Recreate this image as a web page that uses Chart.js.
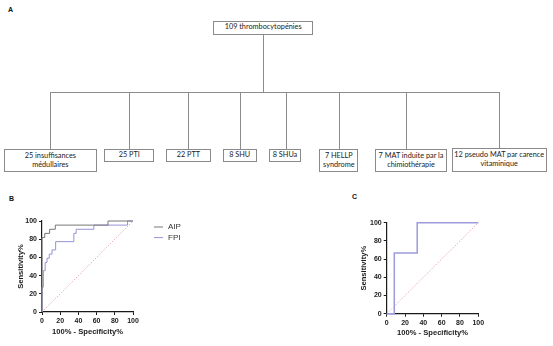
<!DOCTYPE html>
<html>
<head>
<meta charset="utf-8">
<script src="https://cdn.jsdelivr.net/npm/chart.js@4"></script>
<style>
  html, body { margin: 0; padding: 0; background: #fff; }
  #page { position: relative; width: 553px; height: 346px; overflow: hidden; font-family: Lato, "Open Sans", sans-serif; }
  .box { position: absolute; box-sizing: border-box; border: 1px solid #8a8a8a; background: #fff;
         display: flex; flex-direction: column; align-items: center; justify-content: center;
         font-size: 7.3px; line-height: 8.8px; color: #222; text-align: center; white-space: nowrap; }
  .ln { position: absolute; background: #8c8c8c; }
  .tag { position: absolute; font: bold 7px "Liberation Sans", Arial, sans-serif; color: #111; }
  .panel { position: absolute; }
</style>
</head>
<body>
<div id="page">
  <div class="tag" style="left:8px;top:6px">A</div>
  <div class="tag" style="left:9px;top:195px">B</div>
  <div class="tag" style="left:352px;top:193px">C</div>
  <div class="panel" style="left:0;top:185px;width:280px;height:161px"><canvas id="rocB"></canvas></div>
  <div class="panel" style="left:280px;top:185px;width:273px;height:161px"><canvas id="rocC"></canvas></div>
</div>
<script>
// flowchart texts
const rootLabel = ['109 thrombocytopénies'];
const groupLabels = [
  ['25 insuffisances', 'médullaires'],
  ['25 PTI'],
  ['22 PTT'],
  ['8 SHU'],
  ['8 SHUa'],
  ['7 HELLP', 'syndrome'],
  ['7 MAT induite par la', 'chimiothérapie'],
  ['12 pseudo MAT par carence', 'vitaminique']
];

// ROC B (% values)
const aipFpr  = [0, 0, 3, 8.4, 14.6, 72.5, 100];
const aipSens = [0, 81.8, 86.4, 90.9, 95.5, 100, 100];
const fpiFpr  = [0, 0, 1.5, 3.5, 5.5, 8, 11, 15, 35, 37.5, 57, 94, 100];
const fpiSens = [0, 27.3, 45.5, 54.5, 59.1, 63.6, 68.2, 77.3, 86.4, 90.9, 95.5, 100, 100];
// ROC C
const cFpr  = [0, 8.3, 33.3, 100];
const cSens = [0, 66.7, 100, 100];
// reference line
const refLine = [0, 100];
const axisTicks = [0, 20, 40, 60, 80, 100];

// flowchart layout: [left, top, right, bottom]
const rootBox = [213.4, 20.5, 312.9, 34.6];
const groupBoxes = [
  [4, 149, 96.7, 172], [104.3, 149.3, 154.3, 162.3], [166, 149.3, 210.7, 162.3],
  [222.7, 149.3, 256.7, 162.3], [269.3, 149.3, 300.7, 162.3], [319.3, 149.3, 358.3, 172],
  [375.3, 149.3, 446.7, 172], [451.7, 148.3, 546.7, 172]
];
const dropX = [50.4, 129.4, 188.7, 240.1, 286.5, 339, 406.9, 499.1];
const busY = 91.7;

const page = document.getElementById('page');
function addLine(x, y, w, h) {
  const d = document.createElement('div');
  d.className = 'ln';
  d.style.cssText = `left:${x}px;top:${y}px;width:${w}px;height:${h}px`;
  page.appendChild(d);
}
function addBox(b, lines) {
  const d = document.createElement('div');
  d.className = 'box';
  d.style.cssText = `left:${b[0]}px;top:${b[1]}px;width:${b[2] - b[0]}px;height:${b[3] - b[1]}px`;
  lines.forEach(t => { const s = document.createElement('span'); s.textContent = t; d.appendChild(s); });
  page.appendChild(d);
}
addLine(262.6, rootBox[3], 1, busY - rootBox[3]);
addLine(dropX[0], busY, dropX[dropX.length - 1] - dropX[0] + 1, 1);
dropX.forEach((x, i) => addLine(x - 0.5, busY, 1, groupBoxes[i][1] - busY));
addBox(rootBox, rootLabel);
groupLabels.forEach((l, i) => addBox(groupBoxes[i], l));

// charts
const pts = (xs, ys) => xs.map((x, i) => ({ x: x, y: ys[i] }));
const ink = '#1a1a1a';
const tickFont = { family: '"Liberation Sans", Arial, sans-serif', size: 7, weight: 'bold' };
const titleFont = { family: '"Liberation Sans", Arial, sans-serif', size: 7.6, weight: 'bold' };

function makeScales(xH, xPadBottom, yPadTop) {
  const common = {
    type: 'linear', min: 0, max: 100,
    border: { color: ink, width: 1.2 },
    grid: { drawOnChartArea: false, drawTicks: true, tickLength: 3, color: ink, lineWidth: 1 },
    afterBuildTicks: s => { s.ticks = axisTicks.map(v => ({ value: v })); }
  };
  return {
    x: Object.assign({}, common, {
      ticks: { font: tickFont, color: ink, padding: 2, maxRotation: 0, autoSkip: false },
      title: { display: true, text: '100% - Specificity%', font: titleFont, color: ink, padding: { top: 0, bottom: xPadBottom } },
      afterFit: s => { s.height = xH; }
    }),
    y: Object.assign({}, common, {
      ticks: { font: tickFont, color: ink, padding: 2, autoSkip: false },
      title: { display: true, text: 'Sensitivity%', font: titleFont, color: ink, padding: { top: yPadTop, bottom: 0 } },
      afterFit: s => { s.width = 42; }
    })
  };
}

// legend to the right of panel B
const legendPlugin = {
  id: 'sideLegend',
  afterDraw(chart) {
    const opts = chart.options.plugins.sideLegend;
    if (!opts || !opts.show) return;
    const ctx = chart.ctx;
    const a = chart.chartArea;
    ctx.save();
    ctx.font = '8px "Liberation Sans", Arial, sans-serif';
    ctx.textBaseline = 'middle';
    let k = 0;
    chart.data.datasets.forEach(ds => {
      if (!ds.inLegend) return;
      const y = a.top + 6 + k * 10.6;
      ctx.strokeStyle = ds.borderColor;
      ctx.lineWidth = 1;
      ctx.beginPath();
      ctx.moveTo(a.right + 21, y);
      ctx.lineTo(a.right + 30, y);
      ctx.stroke();
      ctx.fillStyle = '#333';
      ctx.fillText(ds.label, a.right + 35, y);
      k++;
    });
    ctx.restore();
  }
};
Chart.register(legendPlugin);

function curve(label, xs, ys, color, w, inLegend) {
  return { label: label, data: pts(xs, ys), showLine: true, stepped: true, borderColor: color,
           borderWidth: w, pointRadius: 0, clip: false, inLegend: inLegend, order: 1 };
}

function build(id, sets, pad, xH, xPadBottom, yPadTop, legend) {
  return new Chart(document.getElementById(id), {
    type: 'scatter',
    data: {
      datasets: sets.concat([{
        label: 'ref', data: pts(refLine, refLine), showLine: true, borderColor: '#e29aac',
        borderWidth: 0.8, borderDash: [1.5, 1.5], pointRadius: 0, order: 5, clip: false
      }])
    },
    options: {
      responsive: true, maintainAspectRatio: false, animation: false,
      layout: { padding: pad },
      plugins: { legend: { display: false }, tooltip: { enabled: false }, sideLegend: { show: legend } },
      scales: makeScales(xH, xPadBottom, yPadTop)
    }
  });
}

const bSets = [curve('AIP', aipFpr, aipSens, '#777777', 1, true), curve('FPI', fpiFpr, fpiSens, '#9393d6', 1, true)];
const cSets = [curve('', cFpr, cSens, '#9c9cdc', 1.5, false)];

// plot areas placed where they sit in the figure
build('rocB', bSets, { left: 0, top: 36, right: 147, bottom: 0 }, 34, 10, 16, true);
build('rocC', cSets, { left: 64.7, top: 37.7, right: 74.7, bottom: 0 }, 32.3, 8.5, 14.4, false);
</script>
</body>
</html>
